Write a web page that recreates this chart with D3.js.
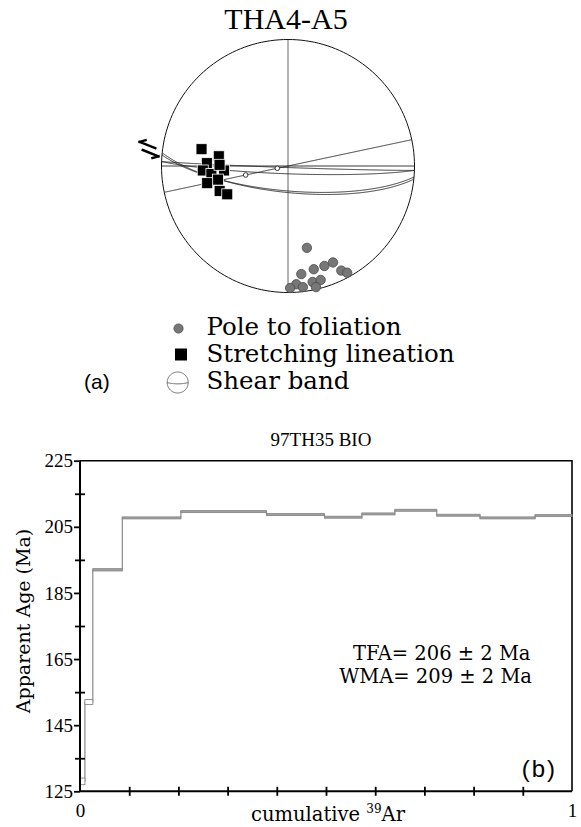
<!DOCTYPE html>
<html>
<head>
<meta charset="utf-8">
<script src="https://cdn.jsdelivr.net/npm/d3@7"></script>
<style>
  body { margin: 0; background: #fff; }
  svg { display: block; }
</style>
</head>
<body>
<svg id="fig" width="581" height="827"></svg>
<script>
// ---- (a) stereonet, lower hemisphere, degrees ----
const foliationTrend  = [167, 173, 166, 160, 155, 153, 151, 168, 164, 176, 179, 173, 167]
const foliationPlunge = [34, 15, 17, 17, 17, 8, 4, 7, 7, 7, 4, 4, 2]
const lineationTrend  = [281, 278, 272, 267, 266, 264, 271, 259, 258, 250, 245]
const lineationPlunge = [31, 44, 36, 33, 48, 39, 45, 43, 35, 42, 46]
const shearStrike = [78, 92, 92, 95, 96]
const shearDip    = [90, 89, 85, 74, 73]
const markTrend  = [258, 258]
const markPlunge = [62, 83]
const legendItems = ['Pole to foliation', 'Stretching lineation', 'Shear band']

// ---- (b) 40Ar/39Ar age spectrum ----
const cumAr  = [0, 0.010, 0.026, 0.086, 0.205, 0.379, 0.497, 0.573, 0.640, 0.725, 0.813, 0.925, 1.0]
const ages   = [128, 152, 192, 207.7, 209.6, 208.7, 207.9, 208.9, 210, 208.5, 207.7, 208.4]
const ageErr = [1.0, 0.75, 0.35, 0.3, 0.3, 0.3, 0.3, 0.3, 0.3, 0.3, 0.3, 0.3]
const ageTicks  = [125, 145, 165, 185, 205, 225]
const ageMinor  = [135, 155, 175, 195, 215]
const arTicks   = [0, 1]
const arMinor   = [0.1, 0.2, 0.3, 0.4, 0.5, 0.6, 0.7, 0.8, 0.9]

const svg = d3.select('#fig')
const serif = "'Liberation Serif', 'Times New Roman', serif"
const wide = "'DejaVu Serif', serif"
const sans = "'Liberation Sans', Arial, sans-serif"

// ================= (a) =================
const R = 126.5
const proj = d3.geoAzimuthalEqualArea()
  .rotate([0, -90])
  .scale(R / Math.SQRT2)
  .translate([288, 166])
  .clipAngle(90)
  .precision(0.1)
const geo = d3.geoPath(proj)
const ll = (t, p) => [180 - t, p]

// great circle of a plane as a line (not a filled polygon)
function planeLine(strike, dip) {
  let c = d3.geoCircle().center(ll(strike - 90, 90 - dip)).radius(90).precision(0.5)()
  return { type: 'LineString', coordinates: c.coordinates[0] }
}

svg.append('text')
  .attr('x', 286).attr('y', 29)
  .attr('text-anchor', 'middle')
  .style('font-family', serif).style('font-size', '30px')
  .text('THA4-A5')

let net = svg.append('g')

// N-S and E-W diameters
net.selectAll('.axis-line')
  .data([0, 90])
  .enter().append('path')
  .attr('d', d => geo(planeLine(d, 90)))
  .attr('fill', 'none')
  .attr('stroke', d => d == 0 ? '#555' : '#222')
  .attr('stroke-width', 1)

net.selectAll('.shear')
  .data(shearStrike)
  .enter().append('path')
  .attr('d', (d, i) => geo(planeLine(d, shearDip[i])))
  .attr('fill', 'none')
  .attr('stroke', '#222')
  .attr('stroke-width', 0.9)

net.append('path')
  .attr('d', geo({ type: 'Sphere' }))
  .attr('fill', 'none')
  .attr('stroke', '#111')
  .attr('stroke-width', 1)

net.selectAll('.mark')
  .data(markTrend)
  .enter().append('circle')
  .attr('cx', (d, i) => proj(ll(d, markPlunge[i]))[0])
  .attr('cy', (d, i) => proj(ll(d, markPlunge[i]))[1])
  .attr('r', 2.3)
  .attr('fill', '#fff')
  .attr('stroke', '#222')
  .attr('stroke-width', 0.9)

net.selectAll('.lin')
  .data(lineationTrend)
  .enter().append('rect')
  .attr('x', (d, i) => proj(ll(d, lineationPlunge[i]))[0] - 5.5)
  .attr('y', (d, i) => proj(ll(d, lineationPlunge[i]))[1] - 5.5)
  .attr('width', 11).attr('height', 11)
  .attr('fill', '#000')
  .attr('stroke', '#fff')
  .attr('stroke-width', 0.8)

net.selectAll('.pole')
  .data(foliationTrend)
  .enter().append('circle')
  .attr('cx', (d, i) => proj(ll(d, foliationPlunge[i]))[0])
  .attr('cy', (d, i) => proj(ll(d, foliationPlunge[i]))[1])
  .attr('r', 4.7)
  .attr('fill', '#777')
  .attr('stroke', '#4a4a4a')
  .attr('stroke-width', 0.8)

// shear sense half-arrows outside the primitive
let ang = (277 - 90) * Math.PI / 180
let ax = 288 + (R + 14) * Math.cos(ang), ay = 166 + (R + 14) * Math.sin(ang)
let arrow = svg.append('g')
  .attr('transform', `translate(${ax},${ay}) rotate(22)`)
  .attr('stroke', '#000').attr('stroke-width', 2.4).attr('fill', 'none')
  .attr('stroke-linecap', 'square')
arrow.append('path').attr('d', 'M-11,-3.2 L6,-3.2 M-11,-3.2 L-6,-7')
arrow.append('path').attr('d', 'M-5,3.2 L12,3.2 M12,3.2 L7,7')

// legend
let leg = svg.append('g')
let legY = [335, 361.5, 388.5]
leg.selectAll('text')
  .data(legendItems)
  .enter().append('text')
  .attr('x', 206.5)
  .attr('y', (d, i) => legY[i])
  .style('font-family', wide).style('font-size', '24.5px')
  .text(d => d)

leg.append('circle')
  .attr('cx', 178.5).attr('cy', 328.5).attr('r', 4.6)
  .attr('fill', '#777').attr('stroke', '#4a4a4a').attr('stroke-width', 0.8)
leg.append('rect')
  .attr('x', 175).attr('y', 348.5).attr('width', 12).attr('height', 12)
  .attr('fill', '#000')

const mini = d3.geoAzimuthalEqualArea()
  .rotate([0, -90]).scale(10.5 / Math.SQRT2)
  .translate([177.7, 382.5]).clipAngle(90).precision(0.1)
const miniGeo = d3.geoPath(mini)
leg.append('path').attr('d', miniGeo({ type: 'Sphere' }))
  .attr('fill', 'none').attr('stroke', '#333').attr('stroke-width', 0.7)
leg.append('path').attr('d', miniGeo(planeLine(90, 80)))
  .attr('fill', 'none').attr('stroke', '#333').attr('stroke-width', 0.7)

svg.append('text')
  .attr('x', 84).attr('y', 389)
  .style('font-family', sans).style('font-size', '21px')
  .text('(a)')

// ================= (b) =================
const x = d3.scaleLinear().domain([0, 1]).range([80, 572])
const y = d3.scaleLinear().domain([125, 225]).range([791.3, 460.7])

svg.append('text')
  .attr('x', 321).attr('y', 445.5)
  .attr('text-anchor', 'middle')
  .style('font-family', serif).style('font-size', '19px')
  .text('97TH35 BIO')

// frame top and right
svg.append('path')
  .attr('d', `M${x(0)},${y(225)} H${x(1)} V${y(125)}`)
  .attr('fill', 'none').attr('stroke', '#000').attr('stroke-width', 1.6)

// steps
let steps = ages.map((a, i) => ({ x0: cumAr[i], x1: cumAr[i + 1], a: a, e: ageErr[i] }))
let stepPts = steps.map(d => [d.x0, d.a]).concat([[1, ages[ages.length - 1]]])

svg.append('path')
  .datum(stepPts)
  .attr('d', d3.line().x(d => x(d[0])).y(d => y(d[1])).curve(d3.curveStepAfter))
  .attr('fill', 'none').attr('stroke', '#8a8a8a').attr('stroke-width', 1.2)

svg.selectAll('.step')
  .data(steps)
  .enter().append('rect')
  .attr('x', d => x(d.x0))
  .attr('y', d => y(d.a + d.e))
  .attr('width', d => x(d.x1) - x(d.x0))
  .attr('height', d => y(d.a - d.e) - y(d.a + d.e))
  .attr('fill', d => d.e > 0.5 ? '#fff' : '#a0a0a0')
  .attr('stroke', '#8a8a8a').attr('stroke-width', 0.9)

// y axis
let yAxis = svg.append('g')
  .attr('transform', `translate(${x(0)},0)`)
  .call(d3.axisLeft(y).tickValues(ageTicks).tickSize(6).tickPadding(1))
let yMinor = svg.append('g')
  .attr('transform', `translate(${x(0)},0)`)
  .call(d3.axisLeft(y).tickValues(ageMinor).tickSize(5).tickFormat(''))
yMinor.selectAll('.tick line').attr('x2', 5).attr('x1', -5)

// x axis
let xAxis = svg.append('g')
  .attr('transform', `translate(0,${y(125)})`)
  .call(d3.axisBottom(x).tickValues(arTicks).tickSize(0).tickPadding(12).tickFormat(d3.format('d')))
let xMinor = svg.append('g')
  .attr('transform', `translate(0,${y(125)})`)
  .call(d3.axisBottom(x).tickValues(arMinor).tickSize(5).tickFormat(''))
xMinor.selectAll('.tick line').attr('y1', -4.5).attr('y2', 4.5)

svg.selectAll('.domain').attr('stroke', '#000').attr('stroke-width', 2)
yMinor.select('.domain').remove()
xMinor.select('.domain').remove()
svg.selectAll('.tick line').attr('stroke', '#000').attr('stroke-width', 1.8)
svg.selectAll('.tick text')
  .style('font-family', serif).style('font-size', '19px').attr('fill', '#000')
xAxis.select('.domain').attr('d', `M${x(0)},0H${x(1)}`)
yAxis.select('.domain').attr('d', `M0,${y(125)}V${y(225)}`)

svg.append('text')
  .attr('transform', 'translate(30,621) rotate(-90)')
  .attr('text-anchor', 'middle')
  .style('font-family', wide).style('font-size', '19px')
  .text('Apparent Age (Ma)')

let xl = svg.append('text')
  .attr('x', 328).attr('y', 821)
  .attr('text-anchor', 'middle')
  .style('font-family', wide).style('font-size', '19.5px')
xl.append('tspan').text('cumulative ')
xl.append('tspan').attr('dy', -8).style('font-size', '12px').text('39')
xl.append('tspan').attr('dy', 8).text('Ar')

svg.append('text')
  .attr('x', 530.5).attr('y', 660)
  .attr('text-anchor', 'end')
  .style('font-family', wide).style('font-size', '19.5px')
  .text('TFA= 206 ± 2 Ma')
svg.append('text')
  .attr('x', 532).attr('y', 683.3)
  .attr('text-anchor', 'end')
  .style('font-family', wide).style('font-size', '19.5px')
  .text('WMA= 209 ± 2 Ma')

svg.append('text')
  .attr('x', 557).attr('y', 777)
  .attr('text-anchor', 'end')
  .style('font-family', sans).style('font-size', '24px')
  .style('letter-spacing', '2px')
  .text('(b)')
</script>
</body>
</html>
